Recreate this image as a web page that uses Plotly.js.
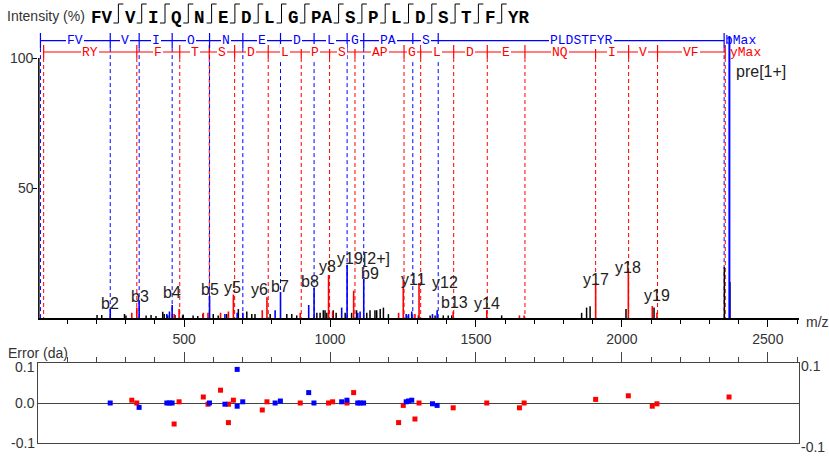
<!DOCTYPE html>
<html><head><meta charset="utf-8">
<script src="https://cdn.plot.ly/plotly-3.0.1.min.js"></script>
<style>html,body{margin:0;padding:0;background:#fff}</style>
</head><body><div id="chart" style="width:829px;height:462px"></div>
<script>
// ---------------- data ----------------
const seqGroups = ['FV','V','I','Q','N','E','D','L','G','PA','S','P','L','D','S','T','F','YR'];
const markB = [1,1,1,1,1,1,1,1,1,1,1,1,1,1,1,1,1];
const markY = [1,1,1,1,1,1,1,1,1,1,1,1,1,1,1,1,1];

const bLadderMz = [8, 247.14, 346.21, 459.29, 587.35, 701.40, 830.44, 945.47, 1058.55, 1115.57, 1283.66, 1370.69, 2350.17];
const bLadderText = ['FV','V','I','Q','N','E','D','L','G','PA','S','PLDSTFYR'];
const yLadderMz = [19.02, 338.18, 485.25, 586.30, 673.33, 788.36, 901.44, 998.50, 1085.53, 1253.62, 1310.64, 1423.72, 1538.75, 1667.79, 1909.89, 2022.98, 2122.05, 2354];
const yLadderText = ['RY','F','T','S','D','L','P','S','AP','G','L','D','E','NQ','I','V','VF'];

const otherMz  = [202,218,296,301,370,387,404,427,432,444,469,495,497,531,547,565,600,617,646,686,715,732,743,795,852,869,886,955,966,977,983,989,1011,1021,1052,1074,1091,1126,1137,1154,1160,1172,1183,1200,1263,1303,1343,1360,1388,1405,1417,1588,1862,1879,1891,2014,2110,2351,2370];
const otherInt = [1.2,1.2,1.5,1,1,1.2,0.8,2.4,1.5,1,1.2,1,1.3,1,0.8,1.5,1.5,1,1.5,3.5,2.5,1.5,1.5,1.5,1.5,1.5,1,2,2,3,3,2,3,2,2,2,3,2,3,3,3,3.5,4,1.5,1,1,1,1,1,1,1,1,2,4,4.5,3.5,4,19.6,13.8];

const bPeakMz  = [247.14,346.21,441,450,459.29,587.35,640,682,701.4,812,830.44,927,945.47,1040,1058.55,1095,1103,1115.57,1261,1269,1280,1351,1367];
const bPeakInt = [3.5,6.8,1.5,2.5,5,8.5,1.5,2,2,3,10,5,11.5,4,20.5,2,2.5,15,1.5,1.5,2.5,1.5,3];
const yPeakMz  = [321,338.18,466,483,566,582,625,652,669,768,784,898,995,1009,1081,1235,1251,1291,1305,1422,1537,1649,1665,1910,2022,2104,2120];
const yPeakInt = [2,4,1.5,3.5,2,2,2,2.5,9,3,8,2,16.5,2.5,10.5,2,14.5,1.5,13.5,2.5,3,1,1,13.5,17.3,4.6,2];
const precursorMz = 2368.2;

const labelText = ['b2','b3','b4','b5','y5','y6','b7','b8','y8','y19[2+]','b9','y11','y12','b13','y14','y17','y18','y19','pre[1+]'];
const labelMz   = [247,349,459,590,666,758,830,930,993,1116,1137,1285,1394,1425,1538,1910,2022,2120,2477];
const labelInt  = [3.35,6.27,7.6,8.85,9.6,8.85,10.1,11.8,17.7,20.8,14.9,12.7,11.4,3.7,3.35,12.7,17.2,6.65,92.8];

const errBMz  = [247,346,441,450,459,587,640,682,682,701,812,830,927,945,1040,1058,1095,1103,1115,1261,1269,1280,1351,1367];
const errBVal = [0,-0.011,0,0,0,0,-0.003,0.084,-0.008,0.003,0,0.005,0.026,0,0.003,0.007,0,0,0,0.003,0.005,0.007,-0.002,-0.006];
const errYMz  = [321,338,466,483,566,582,625,652,652,669,768,784,898,995,1009,1058,1081,1235,1251,1291,1305,1422,1537,1649,1665,1910,2022,2104,2120,2367];
const errYVal = [0.007,0,-0.0525,0.003,0.015,-0.003,0.032,-0.049,-0.003,0.007,-0.0175,0.003,0,0,0.003,0,0.026,-0.049,-0.006,-0.04,0,-0.012,0,-0.012,0,0.009,0.018,-0.008,-0.002,0.015];

const xTicks = [500,1000,1500,2000,2500];
const yTicks = [50,100];
const errLeftTicks  = ['0.1','0.0','-0.1'];
const errRightTicks = ['0.1','-0.1'];

// ---------------- helpers ----------------
const W = 829, H = 462;
const fx = p => p / W, fy = p => 1 - p / H;
const BLUE = '#0000ff', RED = '#ff0000';
const Y_TOP = 111;
const B_ROW = 106.65, B_TICK = [109.6, 103.8];
const Y_ROW = 102.3, Y_TICK = [105.0, 100.0];

function vlines(xs, y0s, y1s) {
  const x = [], y = [];
  xs.forEach((m, i) => {
    x.push(m, m, null);
    y.push(Array.isArray(y0s) ? y0s[i] : y0s, Array.isArray(y1s) ? y1s[i] : y1s, null);
  });
  return {x, y};
}
function lineTrace(d, color, width, dash, xa, ya) {
  return {type:'scatter', mode:'lines', x:d.x, y:d.y, xaxis:xa||'x', yaxis:ya||'y',
    line:{color:color, width:width, dash:dash||'solid'}, hoverinfo:'skip', connectgaps:false};
}

const traces = [];
traces.push(lineTrace(vlines(yLadderMz, Y_TICK[1], 0), RED, 1, '4px,3px'));
traces.push(lineTrace(vlines(bLadderMz, B_TICK[1], 0), BLUE, 1, '4px,3px'));
traces.push(lineTrace({x:[yLadderMz[0], yLadderMz[yLadderMz.length-1]], y:[Y_ROW, Y_ROW]}, RED, 1.2));
traces.push(lineTrace({x:[bLadderMz[0], bLadderMz[bLadderMz.length-1]], y:[B_ROW, B_ROW]}, BLUE, 1.2));
traces.push(lineTrace(vlines(yLadderMz, Y_TICK[0], Y_TICK[1]), RED, 1.2));
traces.push(lineTrace(vlines(bLadderMz, B_TICK[0], B_TICK[1]), BLUE, 1.2));
traces.push(lineTrace(vlines(otherMz, 0, otherInt), '#000', 1.5));
traces.push(lineTrace(vlines(yPeakMz, 0, yPeakInt), RED, 1.6));
traces.push(lineTrace(vlines(bPeakMz, 0, bPeakInt), BLUE, 1.6));
traces.push(lineTrace(vlines([precursorMz], 0, 108.5), BLUE, 2));
traces.push({type:'scatter', mode:'markers', x:errYMz, y:errYVal, xaxis:'x2', yaxis:'y2',
  marker:{symbol:'square', size:5, color:RED}, hoverinfo:'skip'});
traces.push({type:'scatter', mode:'markers', x:errBMz, y:errBVal, xaxis:'x2', yaxis:'y2',
  marker:{symbol:'square', size:5, color:BLUE}, hoverinfo:'skip'});

// ---------------- annotations ----------------
const ann = [];
const sans = '"Liberation Sans", Arial, sans-serif';
const mono = '"Liberation Mono", "Courier New", monospace';
function paperText(text, px, py, xanchor, size, color) {
  ann.push({text, xref:'paper', yref:'paper', x:fx(px), y:fy(py), xanchor:xanchor||'left', yanchor:'middle',
    showarrow:false, font:{family:sans, size:size||14, color:color||'#333'}, borderpad:0, borderwidth:0});
}
paperText('Intensity (%)', 7, 16);
paperText('m/z', 806, 322);
paperText('Error (da)', 8, 353);
[367, 403, 442.5].forEach((py, i) => paperText(errLeftTicks[i], 34.5, py, 'right'));
[366, 447].forEach((py, i) => paperText(errRightTicks[i], 801, py, 'left'));
// main y tick labels, sitting against the tick marks
yTicks.forEach(v => ann.push({text:String(v), xref:'paper', yref:'y', x:fx(34), y:v, xanchor:'right', yanchor:'middle',
  showarrow:false, borderpad:0, borderwidth:0, font:{family:sans, size:14, color:'#333'}}));

function ladderLabels(mzs, texts, row, color) {
  texts.forEach((t, i) => {
    ann.push({text:t, x:(mzs[i] + mzs[i+1]) / 2, y:row, xref:'x', yref:'y', showarrow:false,
      xanchor:'center', yanchor:'middle', bgcolor:'#ffffff', borderpad:1, borderwidth:0,
      font:{family:mono, size:13, color:color}});
  });
}
ladderLabels(bLadderMz, bLadderText, B_ROW, BLUE);
ladderLabels(yLadderMz, yLadderText, Y_ROW, RED);
ann.push({text:'bMax', x:bLadderMz[bLadderMz.length-1], y:B_ROW, xref:'x', yref:'y', showarrow:false,
  xanchor:'left', yanchor:'middle', xshift:1, borderpad:0, borderwidth:0, font:{family:mono, size:13, color:BLUE}});
ann.push({text:'yMax', x:yLadderMz[yLadderMz.length-1], y:Y_ROW, xref:'x', yref:'y', showarrow:false,
  xanchor:'left', yanchor:'middle', xshift:5, borderpad:0, borderwidth:0, font:{family:mono, size:13, color:RED}});

labelText.forEach((t, i) => {
  ann.push({text:t, x:labelMz[i], y:labelInt[i], xref:'x', yref:'y', showarrow:false,
    xanchor:'center', yanchor:'bottom', yshift:-3, borderpad:0, borderwidth:0,
    font:{family:sans, size:16, color:'#222'}});
});

// sequence header
const shapes = [];
const CW = 10.5, MW = 12.8, SEQ_X0 = 91, SEQ_Y = 18, MARK_T = 4, MARK_B = 23, HOOK = 5;
let cur = SEQ_X0;
seqGroups.forEach((g, i) => {
  const w = g.length * CW;
  ann.push({text:'<b>' + g + '</b>', xref:'paper', yref:'paper', x:fx(cur + w / 2), y:fy(SEQ_Y),
    xanchor:'center', yanchor:'middle', showarrow:false, borderpad:0, borderwidth:0,
    font:{family:mono, size:17.5, color:'#000'}});
  cur += w;
  if (i < seqGroups.length - 1) {
    const c = cur + MW / 2;
    const ln = (x0, y0, x1, y1) => shapes.push({type:'line', xref:'paper', yref:'paper',
      x0:fx(x0), y0:fy(y0), x1:fx(x1), y1:fy(y1), line:{color:'#000', width:1}});
    ln(c, MARK_T, c, MARK_B);
    if (markB[i]) ln(c, MARK_T, c + HOOK, MARK_T);
    if (markY[i]) ln(c - HOOK, MARK_B, c, MARK_B);
    cur += MW;
  }
});
shapes.push({type:'line', xref:'x', yref:'y', x0:0, x1:0, y0:0, y1:100, line:{color:'#000', width:3}});

const minorVals = [];
for (let v = 100; v <= 2600; v += 100) if (v % 500) minorVals.push(v);

const xRange = [0, 2607];
const xDomain = [fx(38.1), fx(799.1)];
const layout = {
  width:W, height:H, margin:{l:0, r:0, t:0, b:0}, showlegend:false,
  paper_bgcolor:'#ffffff', plot_bgcolor:'rgba(0,0,0,0)',
  font:{family:sans, size:14, color:'#333'},
  xaxis:{domain:xDomain, range:xRange, anchor:'y', showline:true, linecolor:'#000', linewidth:2,
    ticks:'outside', ticklen:7, tickwidth:1, tickcolor:'#000', tickmode:'array', tickvals:xTicks,
    minor:{tickmode:'array', tickvals:minorVals, ticks:'outside', ticklen:4, tickcolor:'#000', tickwidth:1, showgrid:false},
    showgrid:false, zeroline:false, tickfont:{size:14, color:'#333'}},
  yaxis:{domain:[fy(318), fy(318 - Y_TOP * 2.6)], range:[0, Y_TOP], anchor:'x', tickmode:'array', tickvals:yTicks,
    ticks:'outside', ticklen:5, tickcolor:'#000', showticklabels:false, showline:false, showgrid:false, zeroline:false},
  xaxis2:{domain:xDomain, range:xRange, anchor:'y2', side:'top', showline:true, mirror:true, linecolor:'#444', linewidth:1,
    ticks:'outside', ticklen:10, tickcolor:'#444', tickmode:'array', tickvals:xTicks,
    minor:{tickmode:'array', tickvals:minorVals, ticks:'outside', ticklen:5, tickcolor:'#444', showgrid:false},
    showticklabels:false, showgrid:false, zeroline:false},
  yaxis2:{domain:[fy(443), fy(363)], range:[-0.1, 0.1], anchor:'x2', showticklabels:false, ticks:'',
    showline:true, mirror:true, linecolor:'#444', linewidth:1,
    zeroline:true, zerolinecolor:'#444', zerolinewidth:1, showgrid:false},
  annotations:ann, shapes:shapes
};
Plotly.newPlot('chart', traces, layout, {displayModeBar:false, staticPlot:true});
</script></body></html>
